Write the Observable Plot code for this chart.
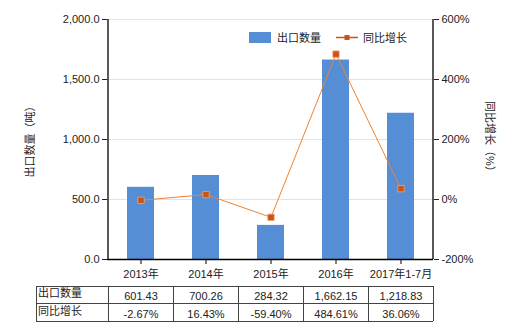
<!DOCTYPE html>
<html>
<head>
<meta charset="utf-8">
<script src="https://cdn.jsdelivr.net/npm/d3@7"></script>
<script src="https://cdn.jsdelivr.net/npm/@observablehq/plot@0.6"></script>
<style>
  html, body { margin: 0; padding: 0; background: #fff; }
</style>
</head>
<body>
<div id="chart"></div>
<script>
const categories = ["2013年", "2014年", "2015年", "2016年", "2017年1-7月"];
const exportQty = [601.43, 700.26, 284.32, 1662.15, 1218.83];
const yoyGrowth = [-2.67, 16.43, -59.40, 484.61, 36.06];
const qtyLabels = ["601.43", "700.26", "284.32", "1,662.15", "1,218.83"];
const yoyLabels = ["-2.67%", "16.43%", "-59.40%", "484.61%", "36.06%"];
const leftTicks = [0, 500, 1000, 1500, 2000];
const rightDomain = [-200, 600];
const seriesNames = ["出口数量", "同比增长"];
const leftTitle = "出口数量（吨）";
const rightTitle = "同比增长（%）";

const font = "'Liberation Sans', 'Noto Sans CJK SC', sans-serif";
const barColor = "#558ed5";
const lineColor = "#ee8234";
const markerColor = "#c8541a";

const leftMax = leftTicks[leftTicks.length - 1];
const toLeft = p => (p - rightDomain[0]) / (rightDomain[1] - rightDomain[0]) * leftMax;
const fromLeft = v => rightDomain[0] + v / leftMax * (rightDomain[1] - rightDomain[0]);

const data = categories.map((c, i) => ({
  cat: c, qty: exportQty[i], yoy: yoyGrowth[i], qtyLabel: qtyLabels[i], yoyLabel: yoyLabels[i]
}));

const chart = Plot.plot({
  width: 520,
  height: 330,
  marginLeft: 107,
  marginRight: 87,
  marginTop: 19,
  marginBottom: 71,
  style: { fontFamily: font, fontSize: "11px", background: "#fff", color: "#222" },
  x: { domain: categories, paddingInner: 0.59, paddingOuter: 0.295, label: null },
  y: { domain: [0, leftMax], label: null },
  marks: [
    Plot.ruleY(leftTicks.slice(1), { stroke: "#e6e3dc", strokeWidth: 1 }),
    Plot.barY(data, { x: "cat", y: "qty", fill: barColor }),
    Plot.ruleY([0], { stroke: "#000", strokeWidth: 1.3 }),
    Plot.line(data, { x: "cat", y: d => toLeft(d.yoy), stroke: lineColor, strokeWidth: 1 }),
    Plot.dot(data, { x: "cat", y: d => toLeft(d.yoy), symbol: "square", r: 3.6, fill: markerColor, stroke: "#f3a46c", strokeWidth: 0.8 }),
    Plot.axisX({ tickSize: 5, tickPadding: 6, label: null, fontSize: 11, stroke: "#000" }),
    Plot.axisY(leftTicks, { tickSize: 5, tickPadding: 3, tickFormat: d3.format(",.1f"), label: null, fontSize: 11 }),
    Plot.axisY(leftTicks, { anchor: "right", tickSize: 5, tickPadding: 3, tickFormat: v => fromLeft(v) + "%", label: null, fontSize: 11 }),
    Plot.text(data, { x: "cat", y: () => 0, text: "qtyLabel", dy: 37, fontSize: 11 }),
    Plot.text(data, { x: "cat", y: () => 0, text: "yoyLabel", dy: 54.5, fontSize: 11 })
  ]
});

document.getElementById("chart").appendChild(chart);

// axis lines, table grid, titles, legend
const svg = d3.select(chart);
const xs = chart.scale("x");
const ys = chart.scale("y");
const gap = xs.step - xs.bandwidth;
const leftEdge = xs.apply(categories[0]) - gap / 2;
const rightEdge = xs.apply(categories[categories.length - 1]) + xs.bandwidth + gap / 2;
const yTop = ys.apply(leftMax);
const yBottom = ys.apply(0);

const g = svg.append("g");
g.append("line").attr("x1", leftEdge).attr("x2", leftEdge).attr("y1", yTop).attr("y2", yBottom).attr("stroke", "#000").attr("stroke-width", 1.3);
g.append("line").attr("x1", rightEdge).attr("x2", rightEdge).attr("y1", yTop).attr("y2", yBottom).attr("stroke", "#000").attr("stroke-width", 1.3);

// table
const tTop = yBottom + 27, tMid = yBottom + 44, tBot = yBottom + 62;
const tLeft = 36;
const tg = svg.append("g").attr("stroke", "#444").attr("stroke-width", 1).attr("shape-rendering", "crispEdges");
[tTop, tMid, tBot].forEach(y => tg.append("line").attr("x1", tLeft).attr("x2", rightEdge).attr("y1", y).attr("y2", y));
const colEdges = [tLeft, leftEdge].concat(categories.map(c => xs.apply(c) + xs.bandwidth + gap / 2));
colEdges.forEach(x => tg.append("line").attr("x1", x).attr("x2", x).attr("y1", tTop).attr("y2", tBot));
svg.append("text").attr("x", tLeft + 2).attr("y", (tTop + tMid) / 2 - 1).attr("dy", "0.35em").attr("text-anchor", "start").attr("font-size", 11).attr("font-family", font).text(seriesNames[0]);
svg.append("text").attr("x", tLeft + 2).attr("y", (tMid + tBot) / 2 - 1).attr("dy", "0.35em").attr("text-anchor", "start").attr("font-size", 11).attr("font-family", font).text(seriesNames[1]);

// axis titles
const midY = (yTop + yBottom) / 2;
svg.append("text").attr("transform", `translate(30,${midY}) rotate(-90)`).attr("text-anchor", "middle").attr("dy", "0.35em")
  .attr("font-size", 11).attr("font-family", font).text(leftTitle);
svg.append("text").attr("transform", `translate(490,${midY}) rotate(90)`).attr("text-anchor", "middle").attr("dy", "0.35em")
  .attr("font-size", 11).attr("font-family", font).text(rightTitle);

// legend
const lg = svg.append("g").attr("font-size", 11).attr("font-family", font).attr("text-anchor", "start");
lg.append("rect").attr("x", 249).attr("y", 32).attr("width", 22).attr("height", 11).attr("fill", barColor);
lg.append("text").attr("x", 277).attr("y", 38).attr("dy", "0.35em").text(seriesNames[0]);
lg.append("line").attr("x1", 336).attr("x2", 358).attr("y1", 37.5).attr("y2", 37.5).attr("stroke", markerColor).attr("stroke-width", 1.5);
lg.append("rect").attr("x", 344.5).attr("y", 35).attr("width", 5).attr("height", 5).attr("fill", markerColor);
lg.append("text").attr("x", 363).attr("y", 38).attr("dy", "0.35em").text(seriesNames[1]);
</script>
</body>
</html>
